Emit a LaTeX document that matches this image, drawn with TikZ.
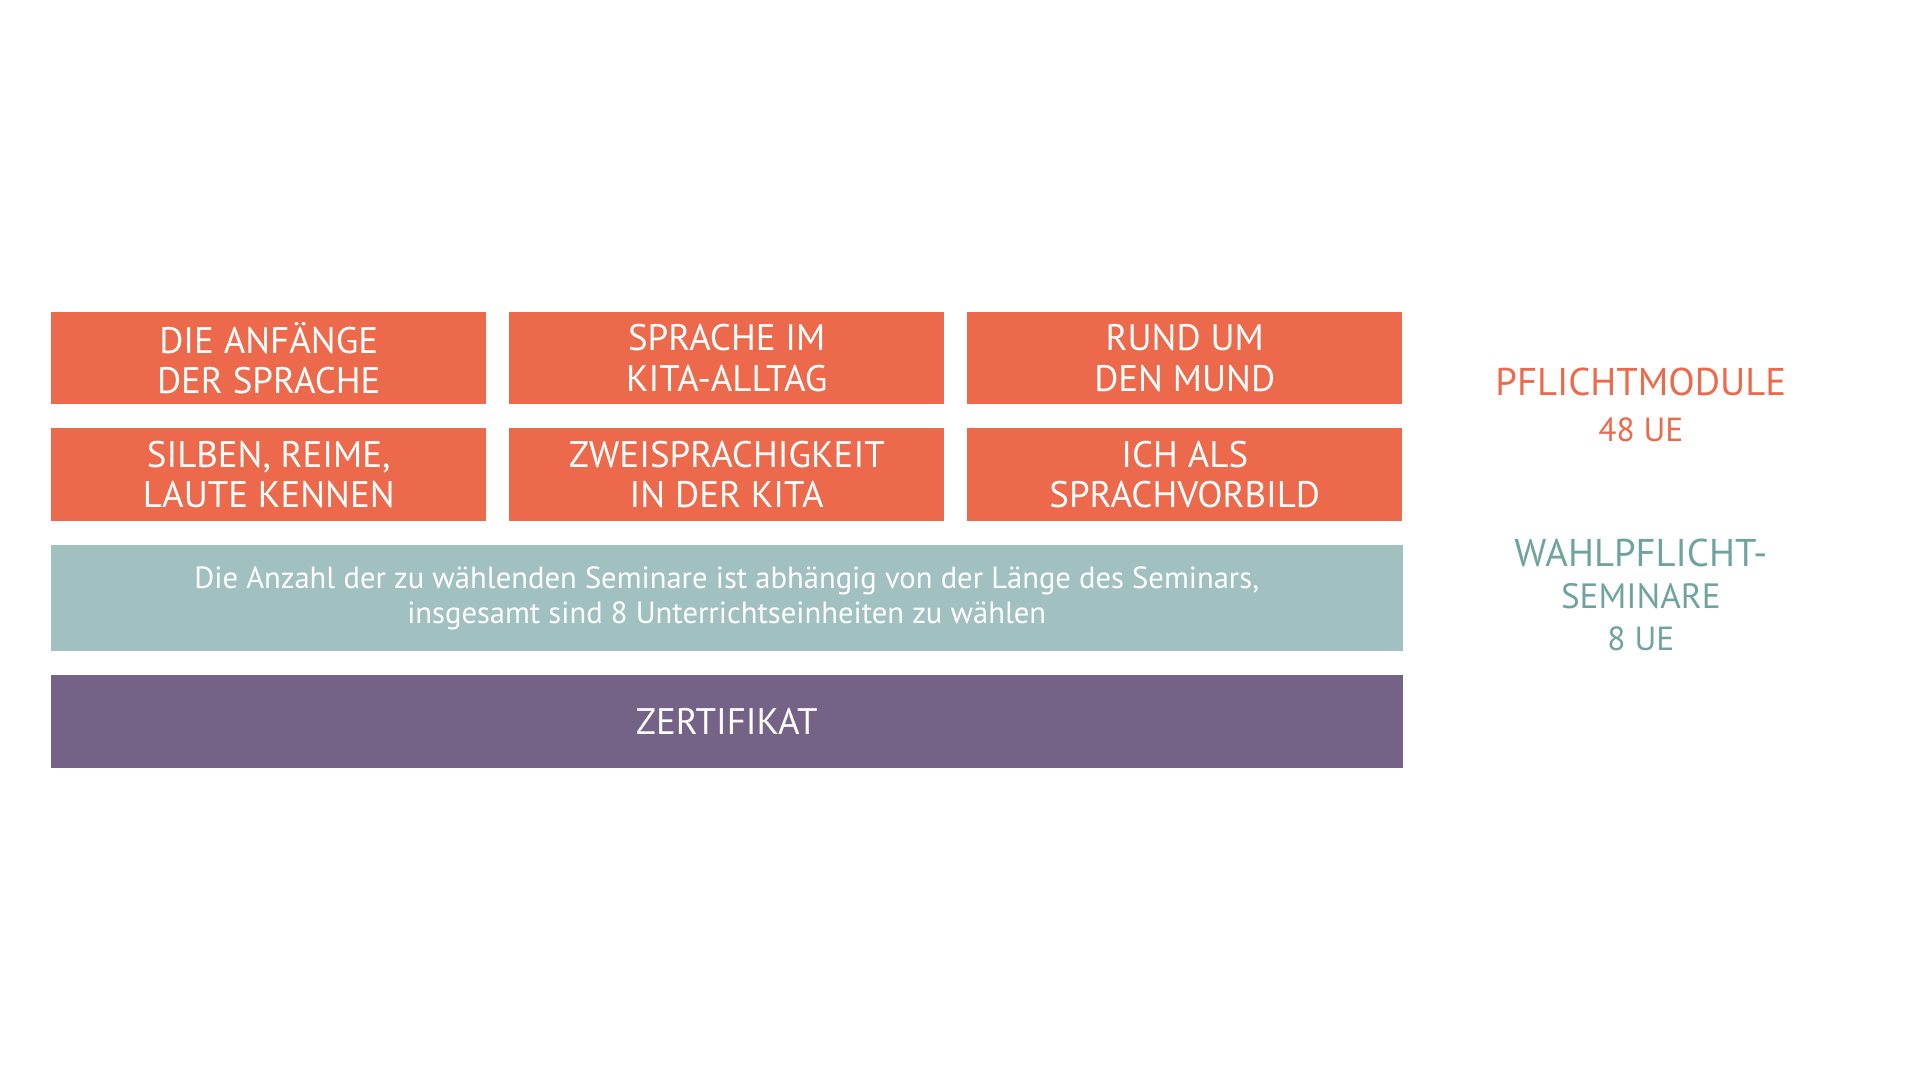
\documentclass[tikz,border=0pt]{standalone}
\usepackage{fontspec}
\setmainfont{PT Sans}
\usepackage{xcolor}
\usetikzlibrary{positioning}
\definecolor{modorange}{HTML}{EC6A4B}
\definecolor{wahlteal}{HTML}{A0C1C0}
\definecolor{zertlila}{HTML}{746386}
\definecolor{tealtext}{HTML}{6FA3A0}
\tikzset{
  modbox/.style={fill=modorange, text=white, minimum width=4.347cm, minimum height=0.92cm, inner sep=0pt, align=center, font=\fontsize{10.5}{11.5}\selectfont},
  widebox/.style={minimum width=13.507cm, inner sep=0pt, align=center, text=white},
  sidelabel/.style={align=center, inner sep=0pt}
}
\begin{document}
\begin{tikzpicture}[x=0.01cm,y=-0.01cm]
\useasboundingbox (0,0) rectangle (1920,1080);
% Pflichtmodule
\node[modbox] (anfaenge) at (268.75,358.15) {DIE ANFÄNGE\\DER SPRACHE};
\node[modbox] (alltag) at (726.75,358.15) {SPRACHE IM\\KITA-ALLTAG};
\node[modbox] (mund) at (1184.75,358.15) {RUND UM\\DEN MUND};
\node[modbox] (silben) at (268.75,474.5) {SILBEN, REIME,\\LAUTE KENNEN};
\node[modbox] (zweisprachig) at (726.75,474.5) {ZWEISPRACHIGKEIT\\IN DER KITA};
\node[modbox] (vorbild) at (1184.75,474.5) {ICH ALS\\SPRACHVORBILD};
% Wahlpflicht und Zertifikat
\node[widebox, fill=wahlteal, minimum height=1.065cm, font=\fontsize{8.7}{10}\selectfont] (wahl) at (726.75,598.15)
  {Die Anzahl der zu wählenden Seminare ist abhängig von der Länge des Seminars,\\insgesamt sind 8 Unterrichtseinheiten zu wählen};
\node[widebox, fill=zertlila, minimum height=0.931cm, font=\fontsize{10.5}{12}\selectfont] (zertifikat) at (726.75,721.25) {ZERTIFIKAT};
% Legende
\node[sidelabel, text=modorange] (pflicht) at (1640.8,405) {\fontsize{11}{13}\selectfont PFLICHTMODULE\\[1pt]\fontsize{9.5}{11}\selectfont 48 UE};
\node[sidelabel, text=tealtext] (wahlpflicht) at (1640.8,595) {\fontsize{11}{13.5}\selectfont WAHLPFLICHT-\\SEMINARE\\\fontsize{9.5}{11}\selectfont 8 UE};
\end{tikzpicture}
\end{document}
